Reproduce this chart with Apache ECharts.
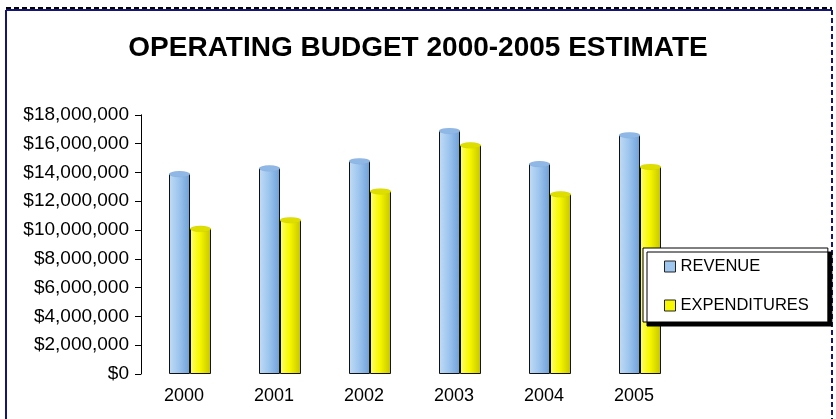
<!DOCTYPE html>
<html>
<head>
<meta charset="utf-8">
<script src="https://cdn.jsdelivr.net/npm/echarts@6/dist/echarts.min.js"></script>
<style>
  html, body { margin: 0; padding: 0; background: #fff; }
  #chart { width: 836px; height: 419px; }
</style>
</head>
<body>
<div id="chart"></div>
<script>
// 数据
var years = ['2000', '2001', '2002', '2003', '2004', '2005'];
var revenue = [13900000, 14300000, 14800000, 16900000, 14600000, 16600000];
var expenditures = [10100000, 10700000, 12700000, 15900000, 12500000, 14400000];
var seriesNames = ['REVENUE', 'EXPENDITURES'];

var blueBody = new echarts.graphic.LinearGradient(0, 0, 1, 0, [
  { offset: 0, color: '#c2dcf6' },
  { offset: 0.45, color: '#9ec6ef' },
  { offset: 1, color: '#6e9fd8' }
]);
var yellowBody = new echarts.graphic.LinearGradient(0, 0, 1, 0, [
  { offset: 0, color: '#ffff70' },
  { offset: 0.45, color: '#f8f800' },
  { offset: 1, color: '#c4c400' }
]);

function money(v) {
  return '$' + v.toString().replace(/\B(?=(\d{3})+(?!\d))/g, ',');
}

var myChart = echarts.init(document.getElementById('chart'));
var option = {
  backgroundColor: '#fff',
  animation: false,
  title: {
    text: 'OPERATING BUDGET 2000-2005 ESTIMATE',
    left: 'center',
    top: 29,
    textStyle: {
      fontFamily: 'Liberation Sans, Arial',
      fontSize: 28,
      fontWeight: 'bold',
      color: '#000'
    }
  },
  legend: {
    orient: 'vertical',
    left: 643,
    top: 248,
    padding: [10, 19, 8, 21],
    itemWidth: 11,
    itemHeight: 11,
    itemGap: 22,
    backgroundColor: '#fff',
    borderColor: '#000',
    borderWidth: 1,
    shadowColor: '#000',
    shadowBlur: 0,
    shadowOffsetX: 4,
    shadowOffsetY: 4,
    textStyle: {
      fontFamily: 'Liberation Sans, Arial',
      fontSize: 16.5,
      color: '#000'
    },
    data: [
      { name: seriesNames[0], icon: 'rect', itemStyle: { color: '#9ec6ef', borderColor: '#222', borderWidth: 1 } },
      { name: seriesNames[1], icon: 'rect', itemStyle: { color: '#f8f800', borderColor: '#222', borderWidth: 1 } }
    ]
  },
  grid: {
    left: 145,
    right: 151,
    top: 114.8,
    bottom: 45
  },
  xAxis: {
    type: 'category',
    data: years,
    axisLine: { show: false },
    axisTick: { show: false },
    axisLabel: {
      margin: 13,
      padding: [0, 12, 0, 0],
      fontFamily: 'Liberation Sans, Arial',
      fontSize: 18,
      color: '#000'
    }
  },
  yAxis: {
    type: 'value',
    min: 0,
    max: 18000000,
    interval: 2000000,
    offset: 4,
    axisLine: { show: true, lineStyle: { color: '#000', width: 1 } },
    axisTick: { show: true, length: 6, lineStyle: { color: '#000' } },
    splitLine: { show: false },
    axisLabel: {
      margin: 12,
      formatter: money,
      fontFamily: 'Liberation Sans, Arial',
      fontSize: 19,
      color: '#000'
    }
  },
  series: [
    {
      name: seriesNames[0],
      type: 'bar',
      barWidth: 21,
      barGap: '0%',
      data: revenue,
      itemStyle: { color: blueBody, borderColor: '#111', borderWidth: 1 }
    },
    {
      name: seriesNames[1],
      type: 'bar',
      barWidth: 21,
      barGap: '0%',
      data: expenditures,
      itemStyle: { color: yellowBody, borderColor: '#111', borderWidth: 1 }
    },
    // 圆柱顶部
    {
      name: seriesNames[0],
      type: 'pictorialBar',
      symbol: 'circle',
      symbolSize: [21, 6],
      symbolPosition: 'end',
      symbolOffset: [0, '-50%'],
      barWidth: 21,
      barGap: '0%',
      z: 5,
      data: revenue,
      itemStyle: { color: '#8fb8e6', borderColor: '#111', borderWidth: 1 }
    },
    {
      name: seriesNames[1],
      type: 'pictorialBar',
      symbol: 'circle',
      symbolSize: [21, 6],
      symbolPosition: 'end',
      symbolOffset: [0, '-50%'],
      barWidth: 21,
      barGap: '0%',
      z: 5,
      data: expenditures,
      itemStyle: { color: '#dede00', borderColor: '#111', borderWidth: 1 }
    }
  ],
  graphic: [
    // 外框
    { type: 'line', shape: { x1: 6, y1: 10, x2: 832, y2: 10 }, style: { stroke: '#14147a', lineWidth: 2 } },
    { type: 'line', shape: { x1: 6, y1: 8, x2: 832, y2: 8 }, style: { stroke: '#000', lineWidth: 2, lineDash: [5, 3] } },
    { type: 'line', shape: { x1: 6, y1: 10, x2: 6, y2: 419 }, style: { stroke: '#14147a', lineWidth: 2 } },
    { type: 'line', shape: { x1: 832, y1: 10, x2: 832, y2: 419 }, style: { stroke: '#14147a', lineWidth: 2, lineDash: [5, 3] } }
  ]
};
myChart.setOption(option);
</script>
</body>
</html>
